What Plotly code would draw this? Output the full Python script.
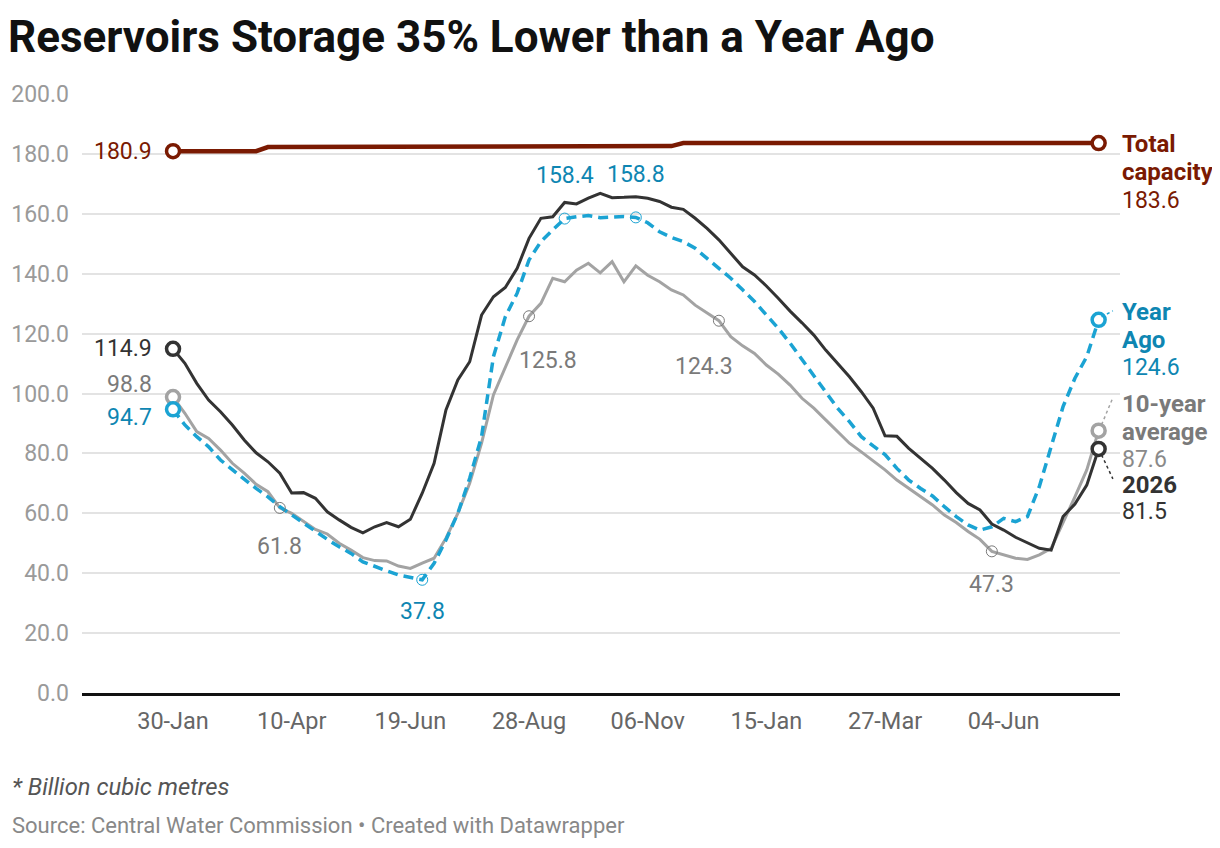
import pandas as pd
import plotly.graph_objects as go

# weekly readings, billion cubic metres
dates = pd.date_range("2025-01-30", periods=79, freq="7D")
tick_labels = ["30-Jan", "10-Apr", "19-Jun", "28-Aug", "06-Nov", "15-Jan", "27-Mar", "04-Jun"]

current = [114.9, 110.1, 103.4, 97.8, 93.9, 89.5, 84.5, 80.2, 77.2, 73.4,
           66.8, 66.9, 65.0, 60.5, 57.8, 55.3, 53.5, 55.5, 56.9, 55.5,
           58.0, 66.7, 76.7, 94.5, 104.5, 110.6, 126.2, 132.3, 135.4, 141.8,
           151.8, 158.5, 159.0, 163.8, 163.3, 165.2, 166.8, 165.4, 165.5, 165.7,
           165.2, 164.1, 162.2, 161.5, 158.5, 155.1, 151.3, 146.8, 142.3, 139.6,
           135.9, 131.8, 127.5, 123.6, 119.5, 114.5, 110.1, 105.6, 100.6, 95.1,
           85.9, 85.7, 81.7, 78.4, 75.0, 71.1, 66.9, 63.3, 61.1, 56.4,
           54.4, 52.0, 50.2, 48.3, 47.7, 58.9, 63.1, 69.4, 81.5]

ten_year_avg = [98.8, 93.4, 87.3, 85.0, 81.1, 76.7, 73.4, 69.7, 67.2, 61.8,
                60.0, 57.2, 54.6, 53.1, 50.0, 47.7, 45.2, 44.2, 44.1, 42.4,
                41.6, 43.4, 45.0, 51.7, 60.0, 70.0, 83.4, 99.5, 108.9, 117.9,
                125.8, 130.1, 138.5, 137.3, 141.2, 143.5, 140.3, 144.0, 137.3, 142.6,
                139.5, 137.3, 134.6, 132.9, 129.5, 127.0, 124.3, 119.0, 115.9, 113.4,
                109.5, 106.5, 102.8, 98.4, 95.1, 91.2, 87.3, 83.4, 80.5, 77.5,
                74.5, 71.1, 68.3, 65.5, 62.8, 59.4, 56.9, 53.9, 51.3, 47.3,
                46.1, 45.0, 44.6, 46.1, 48.3, 56.7, 65.5, 74.5, 87.6]

year_ago = [94.7, 89.5, 85.6, 82.2, 77.8, 74.5, 71.4, 68.3, 65.5, 62.2,
            59.4, 56.7, 53.9, 51.3, 48.8, 46.6, 43.8, 42.2, 40.8, 39.4,
            38.6, 37.8, 43.3, 51.1, 60.0, 71.7, 85.6, 112.3, 125.6, 133.5,
            144.6, 150.7, 154.6, 158.4, 159.0, 159.4, 158.7, 158.9, 159.1, 158.8,
            157.0, 154.0, 152.1, 150.7, 148.5, 145.1, 141.8, 138.5, 134.6, 130.7,
            126.2, 121.8, 116.8, 111.4, 105.6, 100.6, 95.1, 90.6, 85.6, 82.5,
            79.6, 75.0, 71.1, 68.3, 65.8, 62.2, 58.9, 56.1, 54.4, 55.5,
            58.3, 57.2, 58.9, 68.9, 82.2, 95.6, 105.1, 112.3, 124.6]

capacity = [180.9] * 8 + [182.3] * 15 + [182.6] * 20 + [183.6] * 36

C_CUR = "#333333"
C_AVG = "#a3a3a3"
C_AVG_TXT = "#7a7a7a"
C_AGO = "#1ba3d3"
C_AGO_TXT = "#0e86b2"
C_CAP = "#7a1a02"

FONT = "Roboto"
NUM = 23

avg_marks = [9, 30, 46, 69]
ago_marks = [21, 33, 39]

fig = go.Figure()


def add_series(y, color, width, dash=None):
    fig.add_trace(go.Scatter(x=dates, y=y, mode="lines",
                             line=dict(color=color, width=width, dash=dash),
                             hoverinfo="skip", showlegend=False))


add_series(capacity, C_CAP, 4.5)
add_series(ten_year_avg, C_AVG, 3)
add_series(year_ago, C_AGO, 3.5, dash="10px,6px")
add_series(current, C_CUR, 3)

# small hollow circles on labelled points
fig.add_trace(go.Scatter(x=[dates[i] for i in avg_marks],
                         y=[ten_year_avg[i] for i in avg_marks], mode="markers",
                         marker=dict(size=11, color="rgba(0,0,0,0)",
                                     line=dict(color=C_AVG_TXT, width=1)),
                         hoverinfo="skip", showlegend=False))
fig.add_trace(go.Scatter(x=[dates[i] for i in ago_marks],
                         y=[year_ago[i] for i in ago_marks], mode="markers",
                         marker=dict(size=11, color="rgba(0,0,0,0)",
                                     line=dict(color=C_AGO, width=1)),
                         hoverinfo="skip", showlegend=False))

# end circles
for ser, col in [(capacity, C_CAP), (ten_year_avg, C_AVG), (year_ago, C_AGO), (current, C_CUR)]:
    fig.add_trace(go.Scatter(x=[dates[0], dates[-1]], y=[ser[0], ser[-1]], mode="markers",
                             marker=dict(size=13, color="white", line=dict(color=col, width=3.5)),
                             hoverinfo="skip", showlegend=False))

# leader lines to the right hand labels
wk = pd.Timedelta(days=7)
leaders = [(year_ago[-1] + 1.0, year_ago[-1] + 3.0, C_AGO),
           (ten_year_avg[-1] + 2.0, ten_year_avg[-1] + 11.0, C_AVG),
           (current[-1] - 2.0, current[-1] - 10.0, C_CUR)]
for y0, y1, col in leaders:
    fig.add_shape(type="line", xref="x", yref="y", x0=dates[-1] + wk * 0.25, x1=dates[-1] + wk * 1.2,
                  y0=y0, y1=y1, line=dict(color=col, width=1.5, dash="dot"))


def label(x, y, text, color, xanchor="center", xshift=0, yshift=0, size=NUM, xref="x"):
    fig.add_annotation(x=x, y=y, xref=xref, yref="y", text=text, showarrow=False,
                       xanchor=xanchor, yanchor="middle", xshift=xshift, yshift=yshift,
                       font=dict(family=FONT, size=size, color=color))


# start values
label(dates[0], capacity[0], "180.9", C_CAP, xanchor="right", xshift=-19)
label(dates[0], current[0], "114.9", C_CUR, xanchor="right", xshift=-19)
label(dates[0], ten_year_avg[0], "98.8", C_AVG_TXT, xanchor="right", xshift=-19, yshift=13)
label(dates[0], year_ago[0], "94.7", C_AGO_TXT, xanchor="right", xshift=-19, yshift=-8)

# labelled points
label(dates[9], ten_year_avg[9], "61.8", C_AVG_TXT, yshift=-39)
label(dates[30], ten_year_avg[30], "125.8", C_AVG_TXT, xshift=19, yshift=-44)
label(dates[46], ten_year_avg[46], "124.3", C_AVG_TXT, xshift=-15, yshift=-46)
label(dates[69], ten_year_avg[69], "47.3", C_AVG_TXT, yshift=-33)
label(dates[21], year_ago[21], "37.8", C_AGO_TXT, yshift=-32)
label(dates[33], year_ago[33], "158.4", C_AGO_TXT, yshift=43)
label(dates[39], year_ago[39], "158.8", C_AGO_TXT, yshift=43)

# right hand series labels, one annotation per line
right_labels = [
    (capacity[-1], C_CAP, [("<b>Total</b>", -1), ("<b>capacity</b>", -29), ("%.1f" % capacity[-1], -57)]),
    (year_ago[-1], C_AGO_TXT, [("<b>Year</b>", 8), ("<b>Ago</b>", -20), ("%.1f" % year_ago[-1], -48)]),
    (ten_year_avg[-1], C_AVG_TXT, [("<b>10-year</b>", 27), ("<b>average</b>", -1), ("%.1f" % ten_year_avg[-1], -29)]),
    (current[-1], C_CUR, [("<b>2026</b>", -36), ("%.1f" % current[-1], -63)]),
]
for yv, col, lines in right_labels:
    for txt, dy in lines:
        sz = 24 if txt.startswith("<b>") else NUM
        c = "#8a8a8a" if (col == C_AVG_TXT and not txt.startswith("<b>")) else col
        label(1.0, yv, txt, c, xanchor="left", yshift=dy, size=sz, xref="paper")

# notes
fig.add_annotation(xref="paper", yref="paper", x=-0.0694, y=-0.157, xanchor="left", yanchor="middle",
                   text="<i>* Billion cubic metres</i>", showarrow=False,
                   font=dict(family=FONT, size=23.8, color="#555555"))
fig.add_annotation(xref="paper", yref="paper", x=-0.0694, y=-0.2204, xanchor="left", yanchor="middle",
                   text="Source: Central Water Commission • Created with Datawrapper", showarrow=False,
                   font=dict(family=FONT, size=22, color="#888888"))

# the page body adds 8px on each side, so the figure is drawn 8px smaller
fig.update_layout(
    width=1212, height=840,
    margin=dict(l=74, r=100, t=86, b=155, autoexpand=False),
    paper_bgcolor="white", plot_bgcolor="white",
    font=dict(family=FONT),
    title=dict(text="<b>Reservoirs Storage 35% Lower than a Year Ago</b>",
               xref="container", yref="container", x=0, y=1 - 29 / 840,
               xanchor="left", yanchor="middle",
               font=dict(family=FONT, size=44, color="#111111")),
    xaxis=dict(type="date", automargin=False,
               range=[dates[0] - wk * 7.67, dates[0] + wk * 79.8],
               tickvals=list(dates[:71:10]), ticktext=tick_labels,
               showgrid=False, showline=True, linecolor="#111111", linewidth=2.5,
               ticks="", ticklabelstandoff=5,
               tickfont=dict(family=FONT, size=23.5, color="#666666")),
    yaxis=dict(range=[0, 200], dtick=20, tickformat=".1f", automargin=False,
               showgrid=True, gridcolor="#e3e3e3", gridwidth=1.5, zeroline=False,
               ticks="", ticklabelstandoff=12,
               tickfont=dict(family=FONT, size=23, color="#9a9a9a")),
)

fig.write_html("out.html")
